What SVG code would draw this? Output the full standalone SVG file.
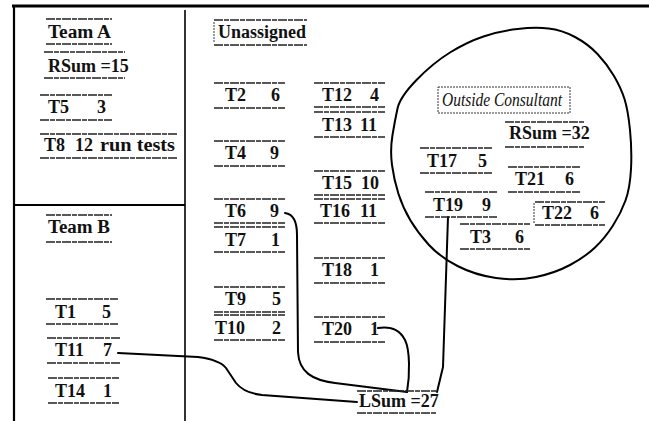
<svg xmlns="http://www.w3.org/2000/svg" width="649" height="421" viewBox="0 0 649 421">
<style>
.t{font-family:"Liberation Serif","Times New Roman",serif;font-weight:bold;font-size:18px;fill:#111}
.s{stroke:#222;stroke-width:1.3;stroke-dasharray:9 1 5 1}
.f{stroke:#000;fill:none}
.c{stroke:#000;stroke-width:2;fill:none;stroke-linejoin:round;stroke-linecap:round}
.h{font-family:"Liberation Serif","Times New Roman",serif;font-style:italic;font-size:18px;fill:#111}
.d{stroke:#333;stroke-width:1;stroke-dasharray:2 1;fill:none}
</style>
<rect width="649" height="421" fill="#fff"/>
<g id="frame">
<line class="f" x1="12" y1="6" x2="649" y2="6" stroke-width="2.8"/>
<line class="f" x1="14" y1="6" x2="14" y2="421" stroke-width="2.2"/>
<line class="f" x1="185" y1="10" x2="185" y2="421" stroke-width="1.6"/>
<line class="f" x1="14" y1="205" x2="185" y2="205" stroke-width="2.2"/>
</g>
<g id="consultant-region">
<path class="c" d="M 416.5,80 Q 433,63 450,52.5 Q 467,42 483.5,36.5 Q 500,31 517.5,29 Q 535,27 548.5,28.5 Q 562,30 575,37 Q 588,44 597.5,54 Q 607,64 614,76 Q 621,88 624.5,99 Q 628,110 630,130 Q 632,150 631,169 Q 630,188 625.5,200.5 Q 621,213 613,225.5 Q 605,238 595,247.5 Q 585,257 570,265 Q 555,273 536,277 Q 517,281 496,278 Q 475,275 457.5,266 Q 440,257 429,245 Q 418,233 410.5,220.5 Q 403,208 398.5,194 Q 394,180 392,165 Q 390,150 392.5,135 Q 395,120 397.5,108.5 Q 400,97 416.5,80 Z"/>
</g>
<g id="connectors">
<path class="c" d="M118,353 L198,357 Q220,360 226,368 L236,383 Q244,393 262,395 L357,402"/>
<path class="c" d="M285,213 C293,214 297,222 297,235 L298,352 C299,372 312,380 335,383 L407,392"/>
<path class="c" d="M378,328 C392,326 400,330 405,340 C410,350 410,375 407,392"/>
<path class="c" d="M448,217 L443,367 L437,392"/>
</g>
<g id="teamA"><line class="s" x1="46" y1="19" x2="112" y2="19"/><line class="s" x1="46" y1="44" x2="112" y2="44"/><text class="t" x="48" y="38" textLength="63" lengthAdjust="spacingAndGlyphs">Team A</text></g>
<g id="rsumA"><line class="s" x1="44" y1="52" x2="125" y2="52"/><line class="s" x1="44" y1="78" x2="125" y2="78"/><text class="t" x="48" y="72">RSum =15</text></g>
<g id="T5"><line class="s" x1="40" y1="95" x2="112" y2="95"/><line class="s" x1="40" y1="120" x2="112" y2="120"/><text class="t" x="48" y="113">T5</text><text class="t" x="97" y="113">3</text></g>
<g id="T8"><line class="s" x1="40" y1="134" x2="177" y2="134"/><line class="s" x1="40" y1="158" x2="177" y2="158"/><text class="t" x="44" y="151">T8</text><text class="t" x="75" y="151">12</text><text class="t" x="100" y="151" textLength="75" lengthAdjust="spacingAndGlyphs">run tests</text></g>
<g id="teamB"><line class="s" x1="46" y1="215" x2="112" y2="215"/><line class="s" x1="46" y1="242" x2="112" y2="242"/><text class="t" x="48" y="233" textLength="62" lengthAdjust="spacingAndGlyphs">Team B</text></g>
<g id="T1"><line class="s" x1="46" y1="299" x2="118" y2="299"/><line class="s" x1="46" y1="324" x2="118" y2="324"/><text class="t" x="55" y="318">T1</text><text class="t" x="102" y="318">5</text></g>
<g id="T11"><line class="s" x1="47" y1="338" x2="120" y2="338"/><line class="s" x1="47" y1="363" x2="120" y2="363"/><text class="t" x="55" y="356">T11</text><text class="t" x="103" y="356">7</text></g>
<g id="T14"><line class="s" x1="48" y1="378" x2="119" y2="378"/><line class="s" x1="48" y1="403" x2="119" y2="403"/><text class="t" x="55" y="397">T14</text><text class="t" x="103" y="397">1</text></g>
<g id="unassigned"><line class="s" x1="214" y1="20" x2="307" y2="20"/><line class="s" x1="214" y1="45" x2="307" y2="45"/><line class="d" x1="214" y1="22" x2="214" y2="43"/><text class="t" x="218" y="38">Unassigned</text></g>
<g id="T2"><line class="s" x1="214" y1="83" x2="285" y2="83"/><line class="s" x1="214" y1="108" x2="285" y2="108"/><text class="t" x="225" y="101">T2</text><text class="t" x="271" y="101">6</text></g>
<g id="T4"><line class="s" x1="214" y1="141" x2="285" y2="141"/><line class="s" x1="214" y1="166" x2="285" y2="166"/><text class="t" x="225" y="159">T4</text><text class="t" x="270" y="159">9</text></g>
<g id="T6"><line class="s" x1="214" y1="199" x2="285" y2="199"/><line class="s" x1="214" y1="223" x2="285" y2="223"/><text class="t" x="225" y="217">T6</text><text class="t" x="270" y="217">9</text></g>
<g id="T7"><line class="s" x1="214" y1="227" x2="285" y2="227"/><line class="s" x1="214" y1="252" x2="285" y2="252"/><text class="t" x="225" y="246">T7</text><text class="t" x="271" y="246">1</text></g>
<g id="T9"><line class="s" x1="214" y1="287" x2="285" y2="287"/><line class="s" x1="214" y1="312" x2="285" y2="312"/><text class="t" x="225" y="305">T9</text><text class="t" x="272" y="305">5</text></g>
<g id="T10"><line class="s" x1="214" y1="315" x2="285" y2="315"/><line class="s" x1="214" y1="340" x2="285" y2="340"/><text class="t" x="215" y="334">T10</text><text class="t" x="272" y="334">2</text></g>
<g id="T12"><line class="s" x1="314" y1="83" x2="385" y2="83"/><line class="s" x1="314" y1="107" x2="385" y2="107"/><text class="t" x="322" y="101">T12</text><text class="t" x="370" y="101">4</text></g>
<g id="T13"><line class="s" x1="314" y1="112" x2="385" y2="112"/><line class="s" x1="314" y1="137" x2="385" y2="137"/><text class="t" x="322" y="131">T13</text><text class="t" x="360" y="131">11</text></g>
<g id="T15"><line class="s" x1="314" y1="171" x2="385" y2="171"/><line class="s" x1="314" y1="195" x2="385" y2="195"/><text class="t" x="322" y="189">T15</text><text class="t" x="361" y="189">10</text></g>
<g id="T16"><line class="s" x1="314" y1="199" x2="385" y2="199"/><line class="s" x1="314" y1="223" x2="385" y2="223"/><text class="t" x="320" y="217">T16</text><text class="t" x="360" y="217">11</text></g>
<g id="T18"><line class="s" x1="314" y1="258" x2="385" y2="258"/><line class="s" x1="314" y1="283" x2="385" y2="283"/><text class="t" x="322" y="276">T18</text><text class="t" x="370" y="276">1</text></g>
<g id="T20"><line class="s" x1="314" y1="317" x2="385" y2="317"/><line class="s" x1="314" y1="342" x2="385" y2="342"/><text class="t" x="322" y="335">T20</text><text class="t" x="370" y="335">1</text></g>
<g id="lsum"><line class="s" x1="357" y1="391" x2="437" y2="391"/><line class="s" x1="357" y1="413" x2="437" y2="413"/><text class="t" x="359" y="407">LSum =27</text></g>
<g id="outside-consultant"><rect class="d" x="438" y="87" width="132" height="26"/><text class="h" x="442" y="106" textLength="120" lengthAdjust="spacingAndGlyphs">Outside Consultant</text></g>
<g id="rsumC"><line class="s" x1="505" y1="122" x2="585" y2="122"/><line class="s" x1="505" y1="147" x2="585" y2="147"/><text class="t" x="509" y="139">RSum =32</text></g>
<g id="T17"><line class="s" x1="420" y1="148" x2="492" y2="148"/><line class="s" x1="420" y1="173" x2="492" y2="173"/><text class="t" x="427" y="167">T17</text><text class="t" x="478" y="167">5</text></g>
<g id="T21"><line class="s" x1="508" y1="167" x2="580" y2="167"/><line class="s" x1="508" y1="192" x2="580" y2="192"/><text class="t" x="515" y="185">T21</text><text class="t" x="565" y="185">6</text></g>
<g id="T19"><line class="s" x1="425" y1="192" x2="497" y2="192"/><line class="s" x1="425" y1="217" x2="497" y2="217"/><text class="t" x="433" y="211">T19</text><text class="t" x="482" y="211">9</text></g>
<g id="T22"><line class="s" x1="535" y1="202" x2="605" y2="202"/><line class="s" x1="535" y1="225" x2="605" y2="225"/><line class="d" x1="534" y1="203" x2="534" y2="224"/><text class="t" x="542" y="219">T22</text><text class="t" x="590" y="219">6</text></g>
<g id="T3"><line class="s" x1="460" y1="224" x2="530" y2="224"/><line class="s" x1="460" y1="249" x2="530" y2="249"/><text class="t" x="470" y="243">T3</text><text class="t" x="515" y="243">6</text></g>
</svg>
